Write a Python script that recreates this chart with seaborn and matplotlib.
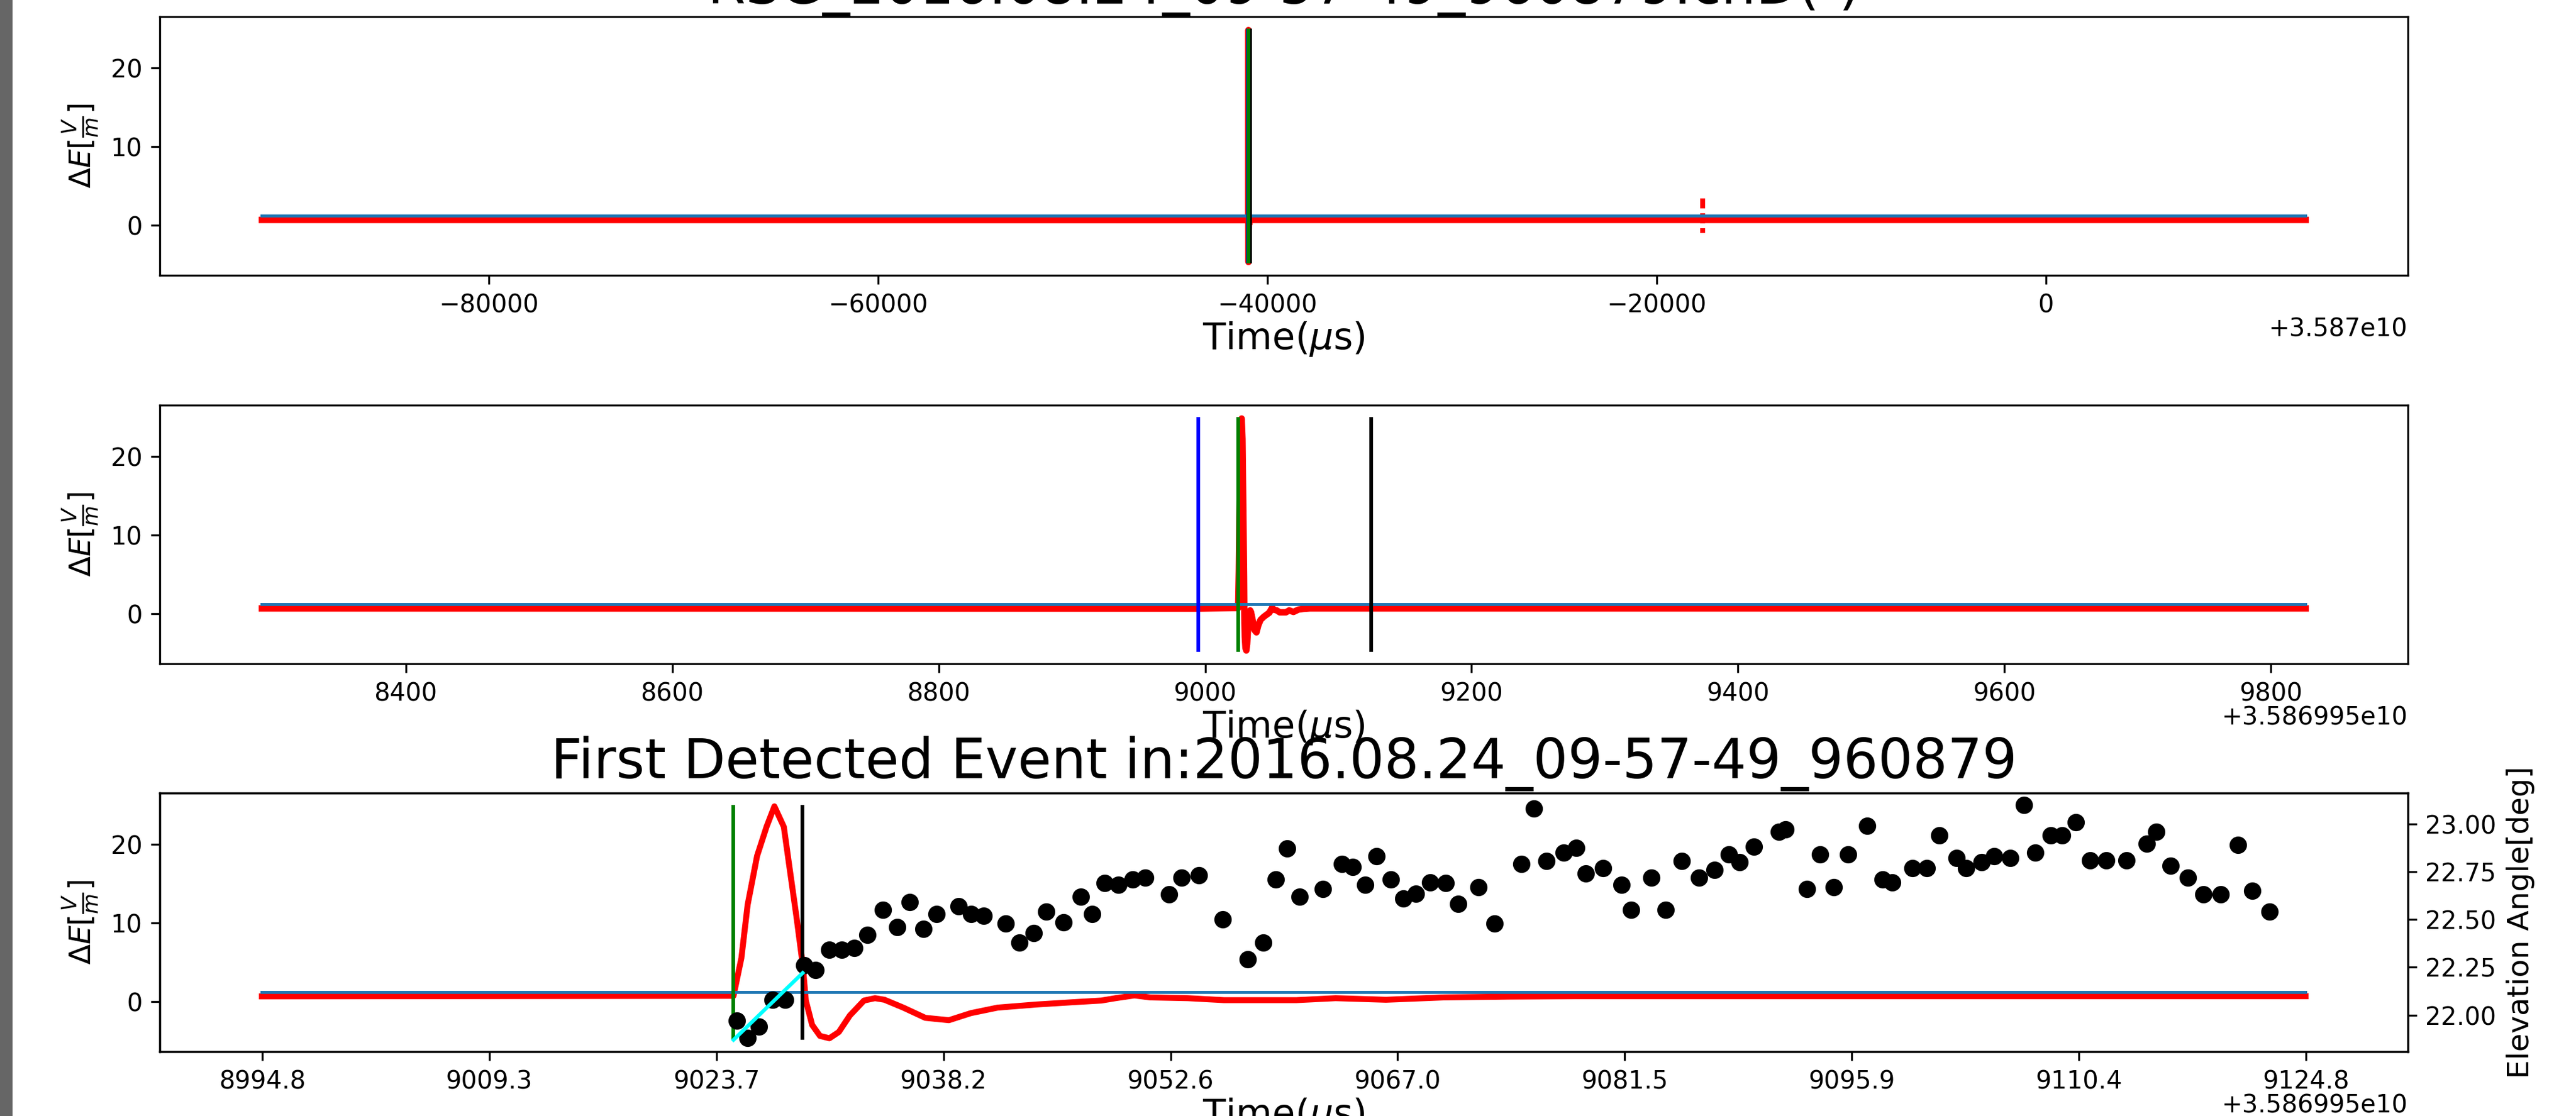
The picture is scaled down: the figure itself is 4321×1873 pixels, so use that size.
import numpy as np
import matplotlib
matplotlib.use('Agg')
import matplotlib.pyplot as plt
import seaborn as sns
from matplotlib.patches import Rectangle

# time origin of the record (us); all times below are microseconds after T0
T0 = 3.586995e10

# field change around the first detected event (V/m)
event_t = [8994.8, 9024.8, 9025.3, 9025.7, 9026.3, 9026.9, 9027.4, 9028.0, 9028.3, 9028.8,
           9029.2, 9029.4, 9029.8, 9030.3, 9030.9, 9031.5, 9032.2, 9033.1, 9033.8, 9034.4,
           9035.6, 9037.0, 9038.5, 9039.9, 9041.6, 9044.1, 9046.5, 9048.2, 9049.1, 9050.3,
           9051.3, 9053.7, 9056.0, 9060.6, 9063.1, 9066.3, 9070.0, 9074.1, 9078.5, 9124.8]
event_e = [0.63, 0.7, 5.5, 12.3, 18.5, 22.2, 24.8, 22.2, 17.9, 10.8,
           4.7, 0.1, -3.0, -4.4, -4.7, -3.9, -1.8, 0.1, 0.4, 0.2,
           -0.8, -2.1, -2.4, -1.5, -0.8, -0.4, -0.1, 0.1, 0.4, 0.75,
           0.5, 0.4, 0.15, 0.15, 0.4, 0.2, 0.5, 0.6, 0.65, 0.65]

baseline_e = 0.65
threshold_e = 1.2
record_t = [-41665.0, 63350.0]     # whole file
window_t = [8292.0, 9826.0]        # middle panel
spike_t = 32370.0                  # small isolated pulse in the record
spike_e = [3.4, 2.8, 2.2, 1.6, -0.3, -0.7, -1.0]

# markers
win_start, win_end = 8994.8, 9124.8
onset_t, fit_end_t = 9024.8, 9029.2
vline_lo, vline_hi = -4.9, 25.0

# elevation angle of the detected sources
elev_t = [9025.0, 9025.7, 9026.4, 9027.3, 9028.1, 9029.3, 9030.0, 9030.9, 9031.7, 9032.5,
          9033.3, 9034.3, 9035.2, 9036.0, 9036.9, 9037.7, 9039.1, 9039.9, 9040.7, 9042.1,
          9043.0, 9043.9, 9044.7, 9045.8, 9046.9, 9047.6, 9048.4, 9049.3, 9050.2, 9051.0,
          9052.5, 9053.3, 9054.4, 9055.9, 9057.5, 9058.5, 9059.3, 9060.0, 9060.8, 9062.3,
          9063.5, 9064.2, 9065.0, 9065.7, 9066.6, 9067.4, 9068.2, 9069.1, 9070.1, 9070.9,
          9072.2, 9073.2, 9074.9, 9075.7, 9076.5, 9077.6, 9078.4, 9079.0, 9080.1, 9081.3,
          9081.9, 9083.2, 9084.1, 9085.1, 9086.2, 9087.2, 9088.1, 9088.8, 9089.7, 9091.3,
          9091.7, 9093.1, 9093.9, 9094.8, 9095.7, 9096.9, 9097.9, 9098.5, 9099.8, 9100.7,
          9101.5, 9102.6, 9103.2, 9104.2, 9105.0, 9106.0, 9106.9, 9107.6, 9108.6, 9109.3,
          9110.2, 9111.1, 9112.1, 9113.4, 9114.7, 9115.3, 9116.2, 9117.3, 9118.3, 9119.4,
          9120.5, 9121.4, 9122.5]
elev_deg = [21.97, 21.88, 21.94, 22.08, 22.08, 22.26, 22.235, 22.34, 22.34, 22.35,
            22.42, 22.55, 22.46, 22.59, 22.45, 22.53, 22.57, 22.53, 22.52, 22.48,
            22.38, 22.43, 22.54, 22.485, 22.62, 22.53, 22.69, 22.68, 22.71, 22.72,
            22.63, 22.72, 22.73, 22.50, 22.29, 22.38, 22.71, 22.87, 22.62, 22.66,
            22.79, 22.775, 22.68, 22.83, 22.71, 22.61, 22.635, 22.695, 22.69, 22.58,
            22.67, 22.48, 22.79, 23.08, 22.805, 22.85, 22.875, 22.74, 22.77, 22.68,
            22.55, 22.72, 22.55, 22.805, 22.72, 22.76, 22.84, 22.80, 22.88, 22.96,
            22.97, 22.66, 22.84, 22.67, 22.84, 22.99, 22.71, 22.695, 22.77, 22.77,
            22.94, 22.82, 22.77, 22.80, 22.83, 22.82, 23.10, 22.85, 22.94, 22.94,
            23.01, 22.81, 22.81, 22.81, 22.895, 22.96, 22.78, 22.72, 22.63, 22.63,
            22.89, 22.65, 22.54]

# linear fit of the first elevation points
fit_t = [onset_t, fit_end_t]
fit_deg = [21.87, 22.22]

bottom_ticks = [8994.82, 9009.26, 9023.71, 9038.16, 9052.60,
                9067.04, 9081.49, 9095.93, 9110.38, 9124.82]
elev_ticks = [22.0, 22.25, 22.5, 22.75, 23.0]

title_top = 'RSG_2016.08.24_09-57-49_960879.chD(-)'
title_bottom = 'First Detected Event in:2016.08.24_09-57-49_960879'
ylab = r'$\Delta E[\frac{V}{m}]$'
xlab = r'Time($\mu$s)'


def trace(ax, t, e, lw=2.6):
    sns.lineplot(x=T0 + np.asarray(t), y=e, ax=ax, color='r', lw=lw,
                 estimator=None, sort=False)


def thresh(ax, t):
    sns.lineplot(x=T0 + np.asarray(t), y=[threshold_e, threshold_e], ax=ax,
                 color='C0', lw=1.2, estimator=None, sort=False)


fig = plt.figure(figsize=(4321 / 300, 1873 / 300), dpi=300)
fig.patches.append(Rectangle((0, 0), 19 / 4321, 1, transform=fig.transFigure,
                             color='#666666', zorder=-1))
left, width, height = 0.062, 0.8727, 0.2317
ax1 = fig.add_axes([left, 0.7533, width, height])
ax2 = fig.add_axes([left, 0.4052, width, height])
ax3 = fig.add_axes([left, 0.0577, width, height])

# whole record
trace(ax1, [record_t[0]] + event_t + [record_t[1]],
      [baseline_e] + event_e + [baseline_e])
sns.lineplot(x=[T0 + spike_t] * len(spike_e), y=spike_e, ax=ax1, color='r',
             lw=2, ls=(0, (2, 1)), estimator=None, sort=False)
thresh(ax1, record_t)
ax1.vlines(T0 + np.array([win_start]), vline_lo, vline_hi, colors='b', lw=1.5)
ax1.vlines(T0 + np.array([win_end]), vline_lo, vline_hi, colors='k', lw=1.5)
ax1.vlines(T0 + np.array([onset_t]), vline_lo, vline_hi, colors='g', lw=1.5)
ax1.set_title(title_top, fontsize=22, pad=2.6)

# window around the event
trace(ax2, [window_t[0]] + event_t + [window_t[1]],
      [baseline_e] + event_e + [baseline_e])
thresh(ax2, window_t)
ax2.vlines(T0 + np.array([win_start]), vline_lo, vline_hi, colors='b', lw=1.5)
ax2.vlines(T0 + np.array([win_end]), vline_lo, vline_hi, colors='k', lw=1.5)
ax2.vlines(T0 + np.array([onset_t]), vline_lo, vline_hi, colors='g', lw=1.5)

# first detected event with elevation angles
trace(ax3, event_t, event_e, lw=2.4)
thresh(ax3, [win_start, win_end])
ax3.vlines(T0 + np.array([onset_t]), vline_lo, vline_hi, colors='g', lw=1.5)
ax3.vlines(T0 + np.array([fit_end_t]), vline_lo, vline_hi, colors='k', lw=1.5)
ax3.set_xticks(T0 + np.array(bottom_ticks))
ax3.set_title(title_bottom, fontsize=22)

ax3b = ax3.twinx()
sns.lineplot(x=T0 + np.array(fit_t), y=fit_deg, ax=ax3b, color='cyan', lw=1.5,
             estimator=None, sort=False)
sns.scatterplot(x=T0 + np.array(elev_t), y=elev_deg, ax=ax3b, color='k',
                s=36, linewidth=1, edgecolor='k')
ax3b.set_yticks(elev_ticks)
ax3b.set_ylabel('Elevation Angle[deg]', fontsize=12)

for ax in (ax1, ax2, ax3):
    ax.set_ylabel(ylab, fontsize=12)
    ax.set_xlabel(xlab, fontsize=15, labelpad=1)
    ax.xaxis.OFFSETTEXTPAD = -0.5

fig.savefig('out.png', dpi=300)
